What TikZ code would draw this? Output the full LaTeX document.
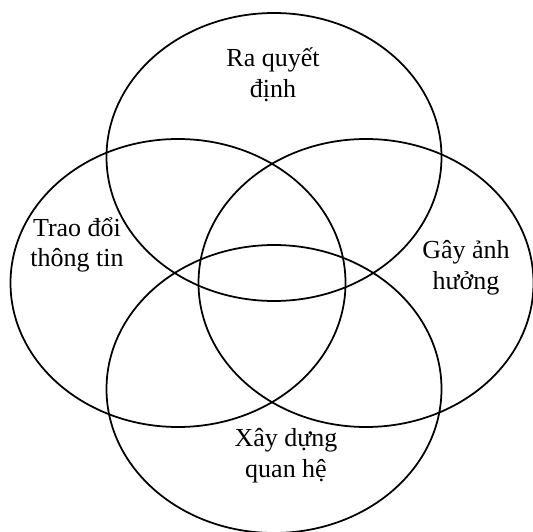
\documentclass[tikz,border=0pt]{standalone}
\usepackage{fontspec}
\setmainfont{Liberation Serif}
\usepackage{tikz}
\usetikzlibrary{shapes.geometric}

\tikzset{
  ring/.style={draw, ellipse, line width=1pt, minimum width=6.7cm, minimum height=5.76cm, inner sep=0pt},
  lbl/.style={align=center, font=\fontsize{14.8}{17.5}\selectfont}
}

\begin{document}
\begin{tikzpicture}
\useasboundingbox (0,0) rectangle (10.66,10.62);
% the four rings
\node[ring] (top) at (5.48,7.48) {};
\node[ring] (left) at (3.56,4.96) {};
\node[ring] (right) at (7.32,4.96) {};
\node[ring] (bottom) at (5.48,2.84) {};
% labels
\node[lbl] (decide) at (5.46,9.12) {Ra quyết\\định};
\node[lbl] (inform) at (1.54,5.72) {Trao đổi\\thông tin};
\node[lbl] (influence) at (9.32,5.26) {Gây ảnh\\hưởng};
\node[lbl] (relate) at (5.72,1.50) {Xây dựng\\quan hệ};
\end{tikzpicture}
\end{document}
